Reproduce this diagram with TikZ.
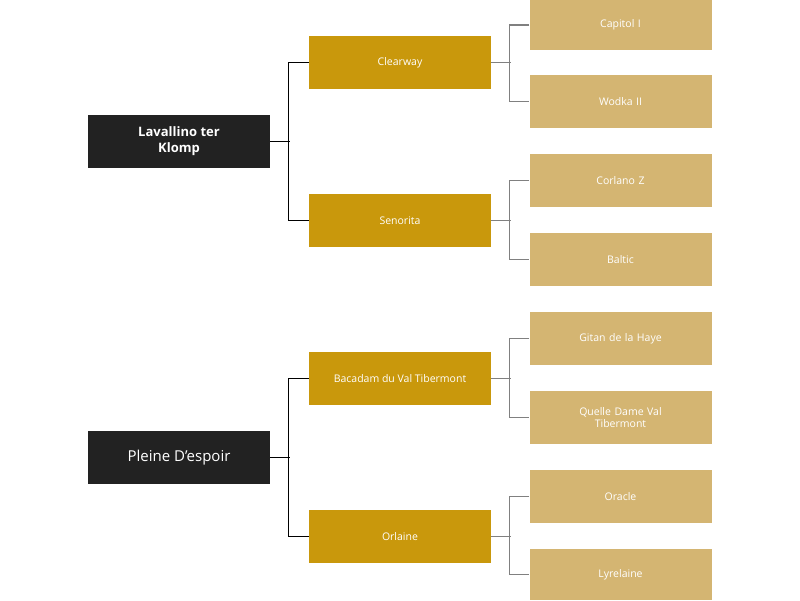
\documentclass[tikz,border=0pt]{standalone}
\usepackage{fontspec}
\setmainfont{Open Sans}
\definecolor{rootc}{HTML}{222222}
\definecolor{midc}{HTML}{C9980C}
\definecolor{leafc}{HTML}{D4B572}
\begin{document}
\begin{tikzpicture}[x=1pt,y=-1pt,
  box/.style={minimum width=182pt,minimum height=53pt,inner sep=0pt,text=white,align=center,font=\fontsize{10.5}{12}\selectfont},
  root/.style={box,fill=rootc},
  mid/.style={box,fill=midc},
  leaf/.style={box,fill=leafc,text width=170pt},
  l1/.style={black,line width=1.1pt},
  l2/.style={gray,line width=1.1pt}]
\useasboundingbox (0,0) rectangle (800,600);
\node[root,font=\bfseries\fontsize{13}{16}\selectfont] (r1) at (179,141.5) {Lavallino ter\\Klomp};
\node[root,font=\fontsize{15}{18}\selectfont] (r2) at (179,457.5) {Pleine D'espoir};
\foreach \n/\t/\y in {m1/Clearway/62.5, m2/Senorita/220.5, m3/Bacadam du Val Tibermont/378.5, m4/Orlaine/536.5}
  \node[mid] (\n) at (400,\y) {\t};
\node[leaf,minimum height=50pt] (a1) at (620.5,25) {Capitol I};
\foreach \n/\t/\y in {a2/Wodka II/101.5, a3/Corlano Z/180.5, a4/Baltic/259.5, a5/Gitan de la Haye/338.5, a6/Quelle Dame Val\\Tibermont/417.5, a7/Oracle/496.5}
  \node[leaf] (\n) at (620.5,\y) {\t};
\node[leaf,minimum height=51pt] (a8) at (620.5,574.5) {Lyrelaine};
\foreach \r/\a/\b in {r1/m1/m2, r2/m3/m4}{
  \draw[l1] (\r.east) -- ++(20,0);
  \draw[l1] (\a.west) -- ++(-20,0) |- (\b.west);
}
\foreach \m/\a/\b in {m1/a1/a2, m2/a3/a4, m3/a5/a6, m4/a7/a8}{
  \draw[l2] (\m.east) -- ++(20,0);
  \draw[l2] (\a.west) -- ++(-20,0) |- (\b.west);
}
\end{tikzpicture}
\end{document}
